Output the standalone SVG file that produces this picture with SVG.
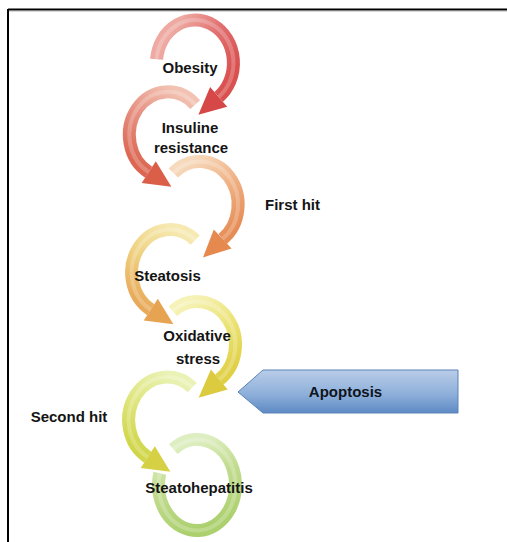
<svg xmlns="http://www.w3.org/2000/svg" width="507" height="542" viewBox="0 0 507 542">
  <style>
    .lbl { font-family: "Liberation Sans", Arial, sans-serif; font-weight: bold; font-size: 15px; fill: #141414; text-anchor: middle; }
    .tube { fill: none; stroke-width: 13; stroke-linecap: butt; }
    .shine { fill: none; stroke: #ffffff; stroke-opacity: 0.22; stroke-width: 4; stroke-linecap: butt; }
  </style>
  <defs>
    <linearGradient id="g1" gradientUnits="userSpaceOnUse" x1="156" y1="59" x2="219" y2="97">
      <stop offset="0" stop-color="#eeaaa2"/><stop offset="0.5" stop-color="#e27272"/><stop offset="1" stop-color="#d9504f"/>
    </linearGradient>
    <linearGradient id="g2" gradientUnits="userSpaceOnUse" x1="195" y1="103" x2="149" y2="172">
      <stop offset="0" stop-color="#f2c2b2"/><stop offset="0.5" stop-color="#e68f80"/><stop offset="1" stop-color="#dc6652"/>
    </linearGradient>
    <linearGradient id="g3" gradientUnits="userSpaceOnUse" x1="174" y1="173" x2="224" y2="239">
      <stop offset="0" stop-color="#f7d9bc"/><stop offset="0.5" stop-color="#efb285"/><stop offset="1" stop-color="#e68c55"/>
    </linearGradient>
    <linearGradient id="g4" gradientUnits="userSpaceOnUse" x1="195" y1="240" x2="151" y2="310">
      <stop offset="0" stop-color="#f6eab2"/><stop offset="0.5" stop-color="#efd282"/><stop offset="1" stop-color="#e8aa5a"/>
    </linearGradient>
    <linearGradient id="g5" gradientUnits="userSpaceOnUse" x1="173" y1="311" x2="221" y2="378">
      <stop offset="0" stop-color="#f6f2b8"/><stop offset="0.5" stop-color="#ece47a"/><stop offset="1" stop-color="#e0d046"/>
    </linearGradient>
    <linearGradient id="g6" gradientUnits="userSpaceOnUse" x1="192" y1="387" x2="148" y2="457">
      <stop offset="0" stop-color="#eaf2b6"/><stop offset="0.5" stop-color="#dfe680"/><stop offset="1" stop-color="#d0d648"/>
    </linearGradient>
    <linearGradient id="g7" gradientUnits="userSpaceOnUse" x1="173" y1="449" x2="200" y2="530">
      <stop offset="0" stop-color="#ddeec0"/><stop offset="0.4" stop-color="#c2dc90"/><stop offset="1" stop-color="#acd06e"/>
    </linearGradient>
    <linearGradient id="gApo" x1="0" y1="0" x2="0" y2="1">
      <stop offset="0" stop-color="#b9cde8"/><stop offset="0.55" stop-color="#8fb0da"/><stop offset="1" stop-color="#5e8ac4"/>
    </linearGradient>
  </defs>

  <rect x="0" y="0" width="507" height="542" fill="#ffffff"/>
  <g id="frame">
    <line x1="8" y1="9.5" x2="507" y2="9.5" stroke="#000" stroke-width="2"/>
    <line x1="8" y1="9" x2="8" y2="542" stroke="#000" stroke-width="2"/>
    <line x1="9" y1="11.5" x2="507" y2="11.5" stroke="#d8d8d8" stroke-width="1"/>
  </g>

  <g id="connectors">
    <!-- arc 1 (Obesity) -->
    <path class="tube" stroke="url(#g1)" d="M156.6,59.25 A38.5,43 0 1 1 218.7,96.9"/>
    <path class="shine" d="M156.6,59.25 A38.5,43 0 1 1 218.7,96.9"/>
    <polygon points="227.2,106.7 210.1,87.1 198.4,114.7" fill="#d64848"/>
    <!-- arc 2 (Insuline resistance) -->
    <path class="tube" stroke="url(#g2)" d="M195.2,104.6 A38.5,43 0 1 0 148.75,172.2"/>
    <path class="shine" d="M195.2,104.6 A38.5,43 0 1 0 148.75,172.2"/>
    <polygon points="141.7,183.1 155.8,161.3 171.4,186.8" fill="#db5e48"/>
    <!-- arc 3 (First hit) -->
    <path class="tube" stroke="url(#g3)" d="M173.3,173.1 A38.5,43 0 1 1 222.7,238.9"/>
    <path class="shine" d="M173.3,173.1 A38.5,43 0 1 1 222.7,238.9"/>
    <polygon points="231.6,248.4 213.8,229.4 203,257.4" fill="#e6894f"/>
    <!-- arc 4 (Steatosis) -->
    <path class="tube" stroke="url(#g4)" d="M195.3,240 A38.5,43 0 1 0 150.75,309.7"/>
    <path class="shine" d="M195.3,240 A38.5,43 0 1 0 150.75,309.7"/>
    <polygon points="143.7,320.6 157.8,298.8 173.4,324.3" fill="#e6a452"/>
    <!-- arc 5 (Oxidative stress) -->
    <path class="tube" stroke="url(#g5)" d="M172.8,311.1 A38.5,43 0 1 1 219.3,379.6"/>
    <path class="shine" d="M172.8,311.1 A38.5,43 0 1 1 219.3,379.6"/>
    <polygon points="227.7,389.6 210.9,369.6 198.6,397.8" fill="#dccb3e"/>
    <!-- arc 6 (Second hit) -->
    <path class="tube" stroke="url(#g6)" d="M192.3,387.5 A38.5,43 0 1 0 147.75,457.2"/>
    <path class="shine" d="M192.3,387.5 A38.5,43 0 1 0 147.75,457.2"/>
    <polygon points="140.7,468.1 154.8,446.3 170.4,471.8" fill="#d6d044"/>
    <!-- ring 7 (Steatohepatitis) -->
    <path class="tube" stroke="url(#g7)" d="M173.3,449.1 A38.5,45.5 0 1 1 159.8,473.2"/>
    <path class="shine" d="M173.3,449.1 A38.5,45.5 0 1 1 159.8,473.2"/>
  </g>

  <g id="node-obesity"><text class="lbl" x="190" y="73">Obesity</text></g>
  <g id="node-insuline-resistance">
    <text class="lbl" x="190" y="133">Insuline</text>
    <text class="lbl" x="191" y="153">resistance</text>
  </g>
  <g id="node-first-hit"><text class="lbl" x="292.5" y="210">First hit</text></g>
  <g id="node-steatosis"><text class="lbl" x="167.5" y="281">Steatosis</text></g>
  <g id="node-oxidative-stress">
    <text class="lbl" x="197" y="341">Oxidative</text>
    <text class="lbl" x="198" y="364">stress</text>
  </g>
  <g id="node-second-hit"><text class="lbl" x="69" y="422">Second hit</text></g>
  <g id="node-steatohepatitis"><text class="lbl" x="199" y="493">Steatohepatitis</text></g>
  <g id="node-apoptosis">
    <polygon points="238,392 263,370 458,370 458,413 263,413" fill="url(#gApo)" stroke="#5b83b8" stroke-width="1"/>
    <text class="lbl" x="345.5" y="397" style="fill:#0e1420">Apoptosis</text>
  </g>
</svg>
